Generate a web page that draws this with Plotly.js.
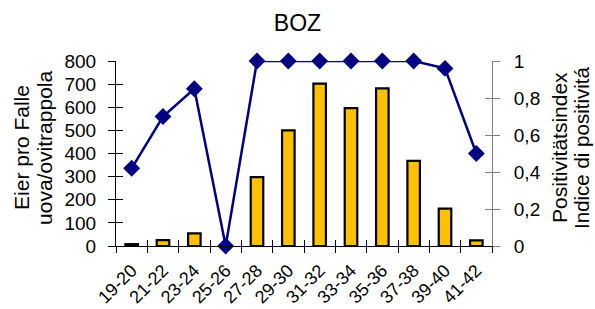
<!DOCTYPE html>
<html>
<head>
<meta charset="utf-8">
<script src="https://cdn.plot.ly/plotly-3.0.1.min.js"></script>
<style>html,body{margin:0;padding:0;background:#fff;}#chart{width:595px;height:309px;}</style>
</head>
<body>
<div id="chart"></div>
<script>
const categories = ["19-20","21-22","23-24","25-26","27-28","29-30","31-32","33-34","35-36","37-38","39-40","41-42"];
const eggsPerTrap = [8, 25, 55, 0, 298, 500, 702, 596, 682, 368, 162, 24];
const positivityIndex = [0.42, 0.70, 0.85, 0, 1, 1, 1, 1, 1, 1, 0.96, 0.50];
const leftTicks = [0,100,200,300,400,500,600,700,800];
const rightTicks = [0,0.2,0.4,0.6,0.8,1];
const rightTickText = ["0","0,2","0,4","0,6","0,8","1"];

const idx = categories.map((c,i)=>i);
const bounds = categories.map((c,i)=>i-0.5).concat([categories.length-0.5]);
const FONT = "Arial, 'Liberation Sans', sans-serif";
const xr = [-0.5, categories.length-0.5];

const traces = [
  {type:'bar', x:idx, y:eggsPerTrap, width:0.4,
   marker:{color:'#FFC000', line:{color:'#000000', width:2.2}},
   xaxis:'x', yaxis:'y', hoverinfo:'skip'},
  {type:'scatter', mode:'lines+markers', x:idx, y:positivityIndex,
   line:{color:'#000080', width:2.5},
   marker:{symbol:'diamond', size:13, color:'#000080'},
   xaxis:'x', yaxis:'y2', cliponaxis:false, hoverinfo:'skip'},
  {type:'scatter', x:[], y:[], xaxis:'x2', yaxis:'y3', hoverinfo:'skip', showlegend:false},
  {type:'scatter', x:[], y:[], xaxis:'x3', yaxis:'y4', hoverinfo:'skip', showlegend:false}
];

const layout = {
  width:595, height:309,
  margin:{l:116, r:103, t:61, b:63},
  paper_bgcolor:'#ffffff', plot_bgcolor:'rgba(0,0,0,0)',
  showlegend:false,
  font:{family:FONT, color:'#000000'},
  title:{text:'BOZ', font:{family:FONT, size:23, color:'#000000'}, x:0.5, xanchor:'center', y:0.925, yanchor:'middle'},
  xaxis:{range:xr, tickmode:'array', tickvals:idx, ticktext:categories, ticks:'',
         tickangle:-45, tickfont:{size:18}, showline:true, linecolor:'#000000', linewidth:1,
         showgrid:false, zeroline:false, ticklabelstandoff:6, fixedrange:true},
  xaxis2:{overlaying:'x', anchor:'y', side:'bottom', range:xr, tickmode:'array', tickvals:bounds,
          ticks:'outside', ticklen:6, tickcolor:'#000000', showticklabels:false, showline:false,
          showgrid:false, zeroline:false},
  xaxis3:{overlaying:'x', anchor:'y', side:'bottom', range:xr, tickmode:'array', tickvals:bounds,
          ticks:'inside', ticklen:6, tickcolor:'#000000', showticklabels:false, showline:false,
          showgrid:false, zeroline:false},
  yaxis:{range:[0,800], tickmode:'array', tickvals:leftTicks, ticks:'outside', ticklen:7,
         tickcolor:'#000000', showline:true, linecolor:'#000000', linewidth:1, showgrid:false,
         zeroline:false, tickfont:{size:19}, ticklabelstandoff:8},
  yaxis3:{overlaying:'y', range:[0,800], tickmode:'array', tickvals:leftTicks, ticks:'inside', ticklen:7,
          tickcolor:'#000000', showline:false, showgrid:false, zeroline:false, showticklabels:false, anchor:'x'},
  yaxis2:{overlaying:'y', side:'right', anchor:'x', range:[0,1], tickmode:'array', tickvals:rightTicks,
          ticktext:rightTickText, ticks:'outside', ticklen:7, tickcolor:'#808080', showline:true,
          linecolor:'#808080', linewidth:1, showgrid:false, zeroline:false, tickfont:{size:19},
          ticklabelstandoff:10},
  yaxis4:{overlaying:'y', side:'right', anchor:'x', range:[0,1], tickmode:'array', tickvals:rightTicks,
          ticks:'inside', ticklen:7, tickcolor:'#808080', showline:false, showgrid:false,
          zeroline:false, showticklabels:false},
  annotations:[
    {text:'Eier pro Falle', textangle:-90, xref:'paper', yref:'paper', x:(22-116)/376, y:0.53,
     xanchor:'center', yanchor:'middle', showarrow:false, font:{size:21}},
    {text:'uova/ovitrappola', textangle:-90, xref:'paper', yref:'paper', x:(45-116)/376, y:0.53,
     xanchor:'center', yanchor:'middle', showarrow:false, font:{size:21}},
    {text:'Positivitätsindex', textangle:-90, xref:'paper', yref:'paper', x:(560-116)/376, y:0.53,
     xanchor:'center', yanchor:'middle', showarrow:false, font:{size:21}},
    {text:'Indice di positivitá', textangle:-90, xref:'paper', yref:'paper', x:(582-116)/376, y:0.53,
     xanchor:'center', yanchor:'middle', showarrow:false, font:{size:20.5}}
  ]
};

Plotly.newPlot('chart', traces, layout, {staticPlot:true, displayModeBar:false});
</script>
</body>
</html>
